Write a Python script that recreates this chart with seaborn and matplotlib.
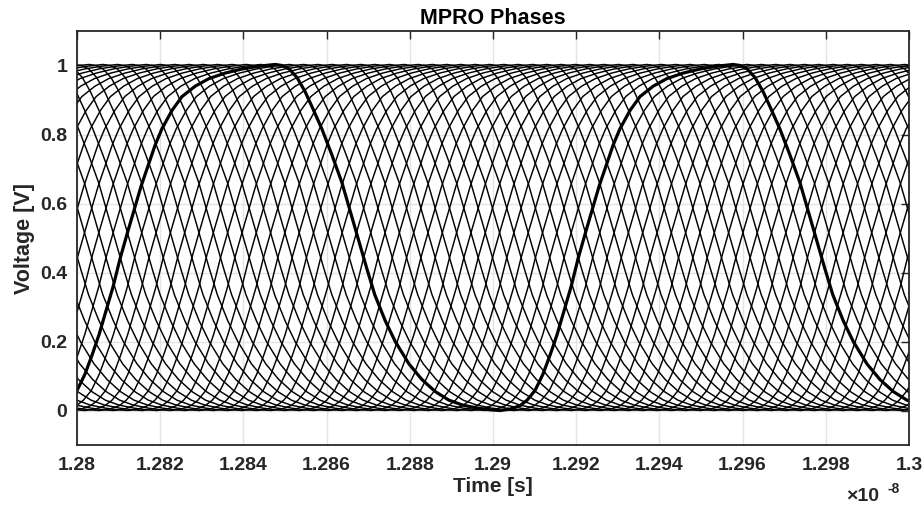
import numpy as np
import pandas as pd
import matplotlib
matplotlib.use("Agg")
import matplotlib.pyplot as plt
import seaborn as sns

# One oscillation period of a single phase, starting at its minimum (time in ps, voltage in V)
wave_t_ps = [0.0, 2.4, 4.8, 6.5, 8.4, 10.3, 12.0, 13.7, 15.4, 17.1, 18.75, 20.4, 22.1,
             23.8, 25.5, 27.2, 28.8, 31.25, 33.65, 36.8, 40.1, 44.0, 48.1, 52.2, 56.0,
             57.7, 59.4, 61.3, 63.2, 65.1, 67.3, 69.7, 72.1, 74.5, 76.4, 78.1, 80.0,
             82.5, 84.9, 88.2, 91.3, 94.5, 97.8, 101.0, 104.6, 107.7]
wave_v = [0.0, 0.004, 0.014, 0.03, 0.058, 0.105, 0.16, 0.22, 0.29, 0.36, 0.44, 0.51, 0.58,
          0.65, 0.71, 0.77, 0.816, 0.87, 0.91, 0.94, 0.962, 0.978, 0.99, 0.998, 1.003,
          1.0, 0.99, 0.965, 0.925, 0.875, 0.815, 0.74, 0.66, 0.56, 0.48, 0.41, 0.335,
          0.26, 0.2, 0.135, 0.09, 0.055, 0.03, 0.016, 0.007, 0.002]
period_ps = 110.1

# Delay of each oscillator phase relative to the highlighted one (ps)
phase_delay_ps = [0.0, 3.44, 6.88, 10.32, 13.76, 17.20, 20.64, 24.08, 27.53, 30.97, 34.41,
                  37.85, 41.29, 44.73, 48.17, 51.61, 55.05, 58.49, 61.93, 65.37, 68.81,
                  72.25, 75.69, 79.13, 82.58, 86.02, 89.46, 92.90, 96.34, 99.78, 103.22,
                  106.66]
highlight_min_ps = 12901.7   # time of a minimum of the highlighted phase
cycles = [-2, -1, 0, 1]

x_ticks = [1.28, 1.282, 1.284, 1.286, 1.288, 1.29, 1.292, 1.294, 1.296, 1.298, 1.3]
y_ticks = [0, 0.2, 0.4, 0.6, 0.8, 1]

rows = []
for k, d in enumerate(phase_delay_ps):
    for n in cycles:
        start = highlight_min_ps + d + n * period_ps
        for t, v in zip(wave_t_ps, wave_v):
            rows.append((k, (start + t) / 1e4, v))
df = pd.DataFrame(rows, columns=["phase", "time", "voltage"])

sns.set_theme(style="white")
plt.rcParams["font.family"] = ["Liberation Sans", "DejaVu Sans"]
plt.rcParams["font.weight"] = "bold"

fig = plt.figure(figsize=(9.24, 5.07), dpi=100)
ax = fig.add_axes([77 / 924, 1 - 445 / 507, 832 / 924, 414 / 507])

dark = "#262626"
ax.grid(True, color="#e3e3e3", lw=1.0)
ax.set_axisbelow(True)

sns.lineplot(data=df, x="time", y="voltage", units="phase", estimator=None,
             color="black", lw=1.05, ax=ax, legend=False)
sns.lineplot(data=df[df["phase"] == 0], x="time", y="voltage", units="phase",
             estimator=None, color="black", lw=2.3, ax=ax, legend=False)

ax.set_xlim(1.28, 1.3)
ax.set_ylim(-0.1, 1.1)
ax.set_xticks(x_ticks)
ax.set_yticks(y_ticks)
ax.set_xticklabels([f"{v:g}" for v in x_ticks])
ax.set_yticklabels([f"{v:g}" for v in y_ticks])
ax.tick_params(direction="in", length=6, width=1.0, colors=dark, labelsize=14,
               top=True, right=True, pad=7)
ax.tick_params(axis="x", pad=9)
for lab in ax.get_xticklabels() + ax.get_yticklabels():
    lab.set_fontweight("bold")
for s in ax.spines.values():
    s.set_color(dark)
    s.set_linewidth(1.3)

ax.set_xlabel("Time [s]", fontsize=15, fontweight="bold", color=dark, labelpad=2)
ax.set_ylabel("Voltage [V]", fontsize=15.5, fontweight="bold", color=dark, labelpad=4)
ax.set_title("MPRO Phases", fontsize=15.5, fontweight="bold", color="black", pad=5)

ax.text(0.925, -0.103, "\u00d710", transform=ax.transAxes, fontsize=14,
        color=dark, ha="left", va="top")
ax.text(0.9745, -0.09, "-8", transform=ax.transAxes, fontsize=10,
        color=dark, ha="left", va="top")

fig.savefig("out.png", dpi=100)
